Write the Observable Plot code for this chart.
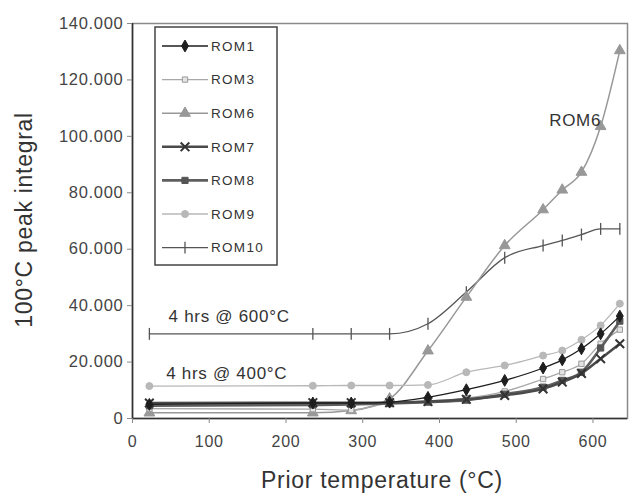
<!DOCTYPE html>
<html>
<head>
<meta charset="utf-8">
<script src="https://cdn.jsdelivr.net/npm/d3@7"></script>
<script src="https://cdn.jsdelivr.net/npm/@observablehq/plot@0.6"></script>
<style>
  html, body { margin: 0; padding: 0; background: #fff; }
  #chart svg { display: block; font-family: "Liberation Sans", Arial, sans-serif; }
</style>
</head>
<body>
<div id="chart"></div>
<script>
// ---- data ----
const temps = [22, 235, 285, 335, 385, 435, 485, 535, 560, 585, 610, 635];
const rom1  = [5000, 5500, 5500, 5800, 7500, 10200, 13500, 17900, 20800, 24700, 30000, 36300];
const rom3  = [3500, 3300, 3000, 5500, 6200, 7200, 9600, 14000, 16400, 19400, 26500, 31500];
const rom6  = [2000, 2000, 2800, 7000, 24000, 43000, 61300, 74000, 81000, 87300, 103500, 130400];
const rom7  = [5500, 5600, 5600, 5600, 6000, 6800, 8200, 10500, 12900, 16000, 21200, 26500];
const rom8  = [4500, 4800, 5000, 5300, 5800, 6500, 8600, 11100, 13500, 16400, 25000, 34500];
const rom9  = [11500, 11600, 11700, 11700, 11900, 16400, 18800, 22300, 24100, 27900, 33000, 40700];
const rom10 = [30000, 30000, 30000, 30000, 33600, 44800, 57000, 61300, 63100, 65200, 67200, 67200];
const seriesNames = ["ROM1", "ROM3", "ROM6", "ROM7", "ROM8", "ROM9", "ROM10"];
const seriesValues = [rom1, rom3, rom6, rom7, rom8, rom9, rom10];
const xTicks = [0, 100, 200, 300, 400, 500, 600];
const yTicks = [0, 20000, 40000, 60000, 80000, 100000, 120000, 140000];
const notes = [
  {text: "4 hrs @ 600°C", x: 47, y: 36000},
  {text: "4 hrs @ 400°C", x: 44, y: 15800},
  {text: "ROM6", x: 543, y: 105600}
];

// ---- styles ----
const vtick = {draw(ctx, size) { const r = Math.sqrt(size / Math.PI) * 1.7; ctx.moveTo(0, -r); ctx.lineTo(0, r); }};
const styles = {
  ROM1:  {line: "#1e1e1e", lw: 1.3, sym: d3.symbolDiamond,  r: 3.6, fill: "#1e1e1e", stroke: "#1e1e1e", sw: 1},
  ROM3:  {line: "#a8a8a8", lw: 1.3, sym: d3.symbolSquare,   r: 3.0, fill: "#e4e4e4", stroke: "#9a9a9a", sw: 1},
  ROM6:  {line: "#989898", lw: 1.5, sym: d3.symbolTriangle, r: 4.0, fill: "#989898", stroke: "#989898", sw: 1},
  ROM7:  {line: "#4a4a4a", lw: 2.6, sym: d3.symbolTimes,    r: 4.0, fill: "none",    stroke: "#333",    sw: 2},
  ROM8:  {line: "#5e5e5e", lw: 2.6, sym: d3.symbolSquare,   r: 3.5, fill: "#555",    stroke: "#555",    sw: 1},
  ROM9:  {line: "#b8b8b8", lw: 1.3, sym: d3.symbolCircle,   r: 3.5, fill: "#b8b8b8", stroke: "#b8b8b8", sw: 1},
  ROM10: {line: "#555",    lw: 1.3, sym: vtick,             r: 3.5, fill: "none",    stroke: "#555",    sw: 1.3}
};

const rows = seriesNames.flatMap((name, i) => temps.map((t, j) => ({series: name, t, v: seriesValues[i][j]})));
const drawOrder = ["ROM10", "ROM6", "ROM9", "ROM3", "ROM8", "ROM7", "ROM1"];

const fmt = d => d === 0 ? "0" : d3.format(",")(d).replace(/,/g, ".");

const marks = [
  Plot.frame({stroke: "#8a8a8a", strokeWidth: 1.5}),
  Plot.ruleY([0], {stroke: "#333", strokeWidth: 1.6}),
  Plot.ruleX([0], {stroke: "#333", strokeWidth: 1.6}),
  Plot.axisX({ticks: xTicks, tickSize: 5, tickPadding: 12, tickFormat: d => String(d), fontSize: 16, fill: "#444", stroke: "#888", label: null}),
  Plot.axisY({ticks: yTicks, tickSize: 5, tickPadding: 4, tickFormat: fmt, fontSize: 16.5, fill: "#444", stroke: "#888", label: null}),
];
for (const name of drawOrder) {
  const s = styles[name];
  const data = rows.filter(d => d.series === name);
  marks.push(Plot.line(data, {x: "t", y: "v", stroke: s.line, strokeWidth: s.lw, curve: "monotone-x"}));
  marks.push(Plot.dot(data, {x: "t", y: "v", symbol: s.sym, r: s.r, fill: s.fill, stroke: s.stroke, strokeWidth: s.sw}));
}
marks.push(Plot.text(notes, {x: "x", y: "y", text: "text", textAnchor: "start", fontSize: 17, fill: "#333"}));
marks.push(Plot.text(["Prior temperature (°C)"], {frameAnchor: "bottom", textAnchor: "middle", lineAnchor: "middle", dy: 62, dx: 2, fontSize: 23, fill: "#333"}));
marks.push(Plot.text(["100°C peak integral"], {frameAnchor: "left", textAnchor: "middle", lineAnchor: "middle", rotate: -90, dx: -108, dy: -1, fontSize: 23, fill: "#333"}));

const chart = Plot.plot({
  width: 629, height: 497,
  marginLeft: 132, marginRight: 2, marginTop: 23, marginBottom: 79,
  x: {domain: [0, 645]},
  y: {domain: [0, 140000]},
  style: {fontFamily: "'Liberation Sans', Arial, sans-serif", letterSpacing: "0.7px", background: "#fff"},
  marks
});
document.getElementById("chart").appendChild(chart);

// ---- legend box (drawn inside the SVG) ----
const svg = d3.select(chart);
const lg = svg.append("g").attr("transform", "translate(155,27)");
lg.append("rect").attr("width", 122).attr("height", 238).attr("fill", "#fff").attr("stroke", "#444").attr("stroke-width", 1.5);
seriesNames.forEach((name, i) => {
  const s = styles[name];
  const y = 19 + i * 33.6;
  const g = lg.append("g").attr("transform", `translate(0,${y})`);
  g.append("line").attr("x1", 7).attr("x2", 53).attr("stroke", s.line).attr("stroke-width", s.lw);
  g.append("path").attr("transform", "translate(30,0)")
    .attr("d", d3.symbol(s.sym, s.r * s.r * Math.PI)())
    .attr("fill", s.fill).attr("stroke", s.stroke).attr("stroke-width", s.sw);
  g.append("text").attr("x", 56).attr("dy", "0.35em").attr("text-anchor", "start")
    .attr("font-size", 13.5).attr("letter-spacing", "1.3px").attr("fill", "#333").text(name);
});
</script>
</body>
</html>
